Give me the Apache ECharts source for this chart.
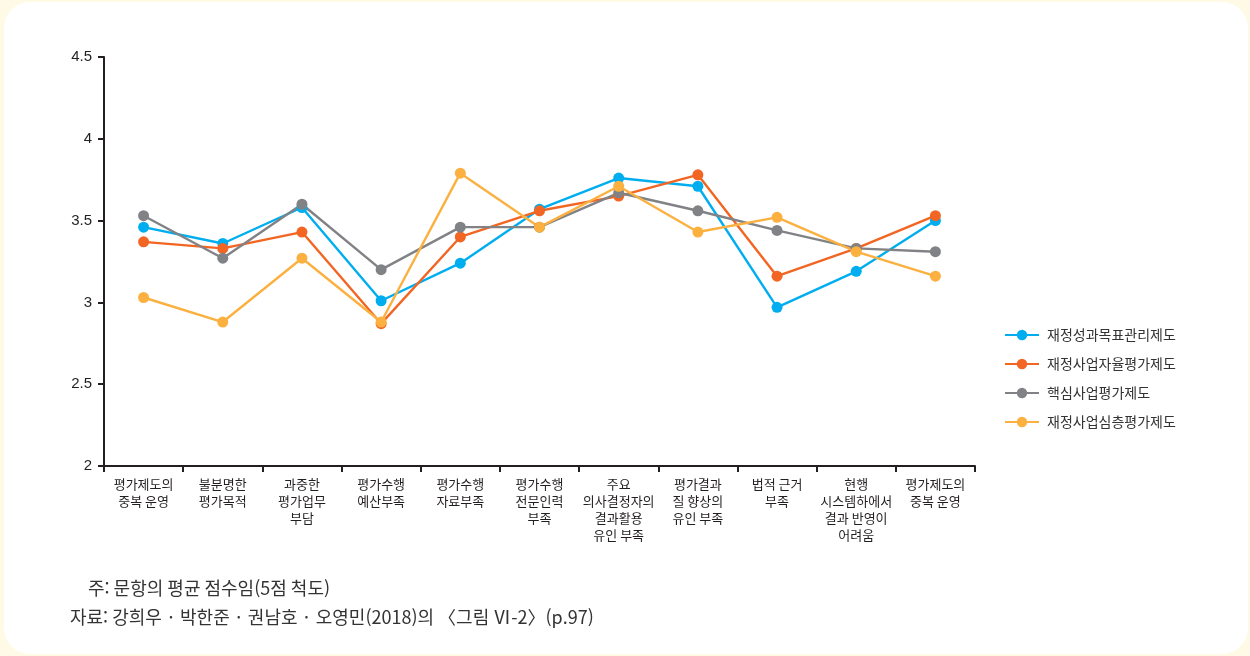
<!doctype html>
<html lang="ko">
<head>
  <meta charset="utf-8">
  <title>평가제도별 문제점 인식</title>
  <style>
    html, body { margin: 0; padding: 0; background: #fefae6; }
    #wrap {
      position: absolute; left: 4px; top: 2px; width: 1244px; height: 652px;
      background: #fff; border-radius: 26px; overflow: hidden;
    }
    #chart { position: absolute; left: -4px; top: -2px; width: 1250px; height: 656px; }
  </style>
</head>
<body>
  <div id="wrap"><div id="chart"></div></div>
  <script src="https://cdn.jsdelivr.net/npm/echarts@6/dist/echarts.min.js"></script>
  <script>
    // 항목 (x축)
    const categories = [
      "평가제도의\n중복 운영", "불분명한\n평가목적", "과중한\n평가업무\n부담", "평가수행\n예산부족",
      "평가수행\n자료부족", "평가수행\n전문인력\n부족", "주요\n의사결정자의\n결과활용\n유인 부족",
      "평가결과\n질 향상의\n유인 부족", "법적 근거\n부족", "현행\n시스템하에서\n결과 반영이\n어려움",
      "평가제도의\n중복 운영"
    ];
    const seriesNames = ["재정성과목표관리제도", "재정사업자율평가제도", "핵심사업평가제도", "재정사업심층평가제도"];
    const perfGoal   = [3.46, 3.36, 3.58, 3.01, 3.24, 3.57, 3.76, 3.71, 2.97, 3.19, 3.50];
    const selfEval   = [3.37, 3.33, 3.43, 2.87, 3.40, 3.56, 3.65, 3.78, 3.16, 3.33, 3.53];
    const coreEval   = [3.53, 3.27, 3.60, 3.20, 3.46, 3.46, 3.67, 3.56, 3.44, 3.33, 3.31];
    const deepEval   = [3.03, 2.88, 3.27, 2.88, 3.79, 3.46, 3.71, 3.43, 3.52, 3.31, 3.16];
    const colors = ["#00aeef", "#f26522", "#808285", "#fbb040"];
    const yTicks = [2, 2.5, 3, 3.5, 4, 4.5];

    const font = '"Noto Sans CJK KR", "Noto Sans", sans-serif';
    const chart = echarts.init(document.getElementById("chart"));
    const allData = [perfGoal, selfEval, coreEval, deepEval];

    chart.setOption({
      animation: false,
      color: colors,
      textStyle: { fontFamily: font },
      grid: { left: 104, top: 57, right: 275, bottom: 190 },
      legend: {
        orient: "vertical",
        left: 999, top: 323,
        itemWidth: 34, itemHeight: 13, itemGap: 15,
        data: seriesNames,
        textStyle: { fontSize: 14, color: "#333", fontFamily: font, padding: [0, 0, 0, 3] }
      },
      xAxis: {
        type: "category",
        data: categories,
        boundaryGap: true,
        axisLine: { lineStyle: { color: "#231f20", width: 2 } },
        axisTick: { show: true, length: 6, alignWithLabel: false, lineStyle: { color: "#231f20", width: 2 } },
        axisLabel: {
          interval: 0, fontSize: 13, lineHeight: 17, color: "#231f20", margin: 10, fontFamily: font
        },
        splitLine: { show: false }
      },
      yAxis: {
        type: "value",
        min: yTicks[0], max: yTicks[yTicks.length - 1], interval: 0.5,
        axisLine: { show: true, lineStyle: { color: "#231f20", width: 2 } },
        axisTick: { show: true, length: 6, lineStyle: { color: "#231f20", width: 2 } },
        axisLabel: { fontSize: 15, color: "#231f20", margin: 12, fontFamily: "Liberation Sans, Arial, sans-serif" },
        splitLine: { show: false }
      },
      series: seriesNames.map((name, i) => ({
        name: name,
        type: "line",
        data: allData[i],
        symbol: "circle",
        symbolSize: 11,
        lineStyle: { width: 2.4, color: colors[i] },
        itemStyle: { color: colors[i] }
      })),
      graphic: [
        { type: "text", left: 88, top: 579,
          style: { text: "주: 문항의 평균 점수임(5점 척도)", fontSize: 18, fill: "#333", fontFamily: font } },
        { type: "text", left: 70, top: 608,
          style: { text: "자료: 강희우 · 박한준 · 권남호 · 오영민(2018)의 〈그림 Ⅵ-2〉(p.97)", fontSize: 18, fill: "#333", fontFamily: font } }
      ]
    });
  </script>
</body>
</html>
